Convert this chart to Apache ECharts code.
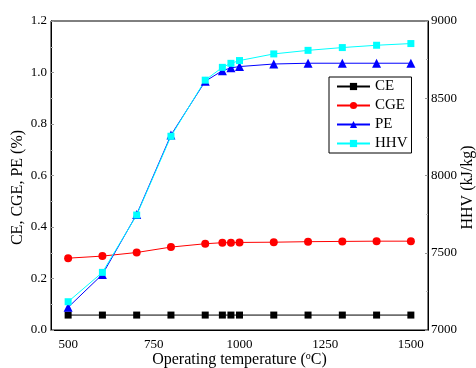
<!DOCTYPE html>
<html>
<head>
<meta charset="utf-8">
<script src="https://cdn.jsdelivr.net/npm/echarts@6/dist/echarts.min.js"></script>
<style>html,body{margin:0;padding:0;background:#fff}#c{width:476px;height:368px}</style>
</head>
<body>
<div id="c"></div>
<script>
var temperatures = [500, 600, 700, 800, 900, 950, 975, 1000, 1100, 1200, 1300, 1400, 1500];
var ceValues  = [0.058, 0.058, 0.058, 0.058, 0.058, 0.058, 0.058, 0.058, 0.058, 0.058, 0.058, 0.058, 0.058];
var cgeValues = [0.279, 0.287, 0.301, 0.322, 0.335, 0.339, 0.339, 0.340, 0.341, 0.343, 0.344, 0.345, 0.345];
var peValues  = [0.088, 0.216, 0.449, 0.757, 0.966, 1.007, 1.018, 1.023, 1.033, 1.036, 1.036, 1.036, 1.036];
var hhvValues = [7183, 7373, 7744, 8254, 8617, 8700, 8726, 8744, 8787, 8810, 8828, 8843, 8854];
var xTickLabels = [500, 750, 1000, 1250, 1500];

function pairs(vals){ return temperatures.map(function(t,i){ return [t, vals[i]]; }); }
var FONT = '"Liberation Serif","DejaVu Serif",serif';
var chart = echarts.init(document.getElementById('c'));
chart.setOption({
  animation: false,
  textStyle: {fontFamily: FONT},
  grid: {left: 51, right: 48, top: 21, bottom: 38, show: true, borderColor: '#000', borderWidth: 1,
    containLabel: false, outerBoundsMode: 'none'},
  legend: {
    left: 329, top: 77, orient: 'vertical',
    borderColor: '#000', borderWidth: 1, padding: [2, 4, 2, 7],
    itemWidth: 33, itemHeight: 9, itemGap: 4,
    textStyle: {fontFamily: FONT, fontSize: 15, color: '#000', lineHeight: 15},
    data: ['CE', 'CGE', 'PE', 'HHV']
  },
  xAxis: {
    type: 'value', min: 450, max: 1550, interval: 50,
    name: 'Operating temperature ({s|o}C)', nameLocation: 'middle', nameGap: 21, nameMoveOverlap: false,
    nameTextStyle: {fontFamily: FONT, fontSize: 16, color: '#000', rich: {s: {fontFamily: FONT, fontSize: 10, verticalAlign: 'top', padding: [0,0,8,0], color:'#000'}}},
    axisLine: {lineStyle: {color: '#000', width: 1}},
    axisTick: {show: false},
    splitLine: {show: false},
    axisLabel: {fontFamily: FONT, fontSize: 13, color: '#000', margin: 8,
      formatter: function(v){ return xTickLabels.indexOf(v) >= 0 ? String(v) : ''; }}
  },
  yAxis: [{
    type: 'value', min: 0, max: 1.2, interval: 0.2, position: 'left',
    name: 'CE, CGE, PE (%)', nameLocation: 'middle', nameGap: 25, nameMoveOverlap: false,
    nameTextStyle: {fontFamily: FONT, fontSize: 16, color: '#000', padding: [0, 24, 0, 0]},
    axisLine: {show: true, lineStyle: {color: '#000', width: 1}},
    axisTick: {show: true, inside: true, length: 3, lineStyle: {color: '#999'}},
    minorTick: {show: true, splitNumber: 2, length: 2, lineStyle: {color: '#bbb'}},
    splitLine: {show: false},
    axisLabel: {fontFamily: FONT, fontSize: 13, color: '#000', margin: 4,
      formatter: function(v){ return v.toFixed(1); }}
  }, {
    type: 'value', min: 7000, max: 9000, interval: 500, position: 'right',
    name: 'HHV (kJ/kg)', nameLocation: 'middle', nameGap: 32, nameRotate: 90, nameMoveOverlap: false,
    nameTextStyle: {fontFamily: FONT, fontSize: 16, color: '#000', padding: [0, 24, 0, 0]},
    axisLine: {show: true, lineStyle: {color: '#000', width: 1}},
    axisTick: {show: true, inside: true, length: 3, lineStyle: {color: '#999'}},
    minorTick: {show: true, splitNumber: 2, length: 2, lineStyle: {color: '#bbb'}},
    splitLine: {show: false},
    axisLabel: {fontFamily: FONT, fontSize: 13, color: '#000', margin: 3,
      formatter: function(v){ return String(v); }}
  }],
  series: [
    {name: 'CE', type: 'line', yAxisIndex: 0, data: pairs(ceValues), symbol: 'rect', symbolSize: 7,
      itemStyle: {color: '#000'}, lineStyle: {color: '#000', width: 1}},
    {name: 'CGE', type: 'line', yAxisIndex: 0, data: pairs(cgeValues), symbol: 'circle', symbolSize: 8,
      itemStyle: {color: '#ff0000'}, lineStyle: {color: '#ff0000', width: 1}},
    {name: 'PE', type: 'line', yAxisIndex: 0, data: pairs(peValues), symbol: 'triangle', symbolSize: 9,
      itemStyle: {color: '#0000ff'}, lineStyle: {color: '#0000ff', width: 1}},
    {name: 'HHV', type: 'line', yAxisIndex: 1, data: pairs(hhvValues), symbol: 'rect', symbolSize: 7,
      itemStyle: {color: '#00ffff'}, lineStyle: {color: '#00ffff', width: 1}}
  ]
});
</script>
</body>
</html>
